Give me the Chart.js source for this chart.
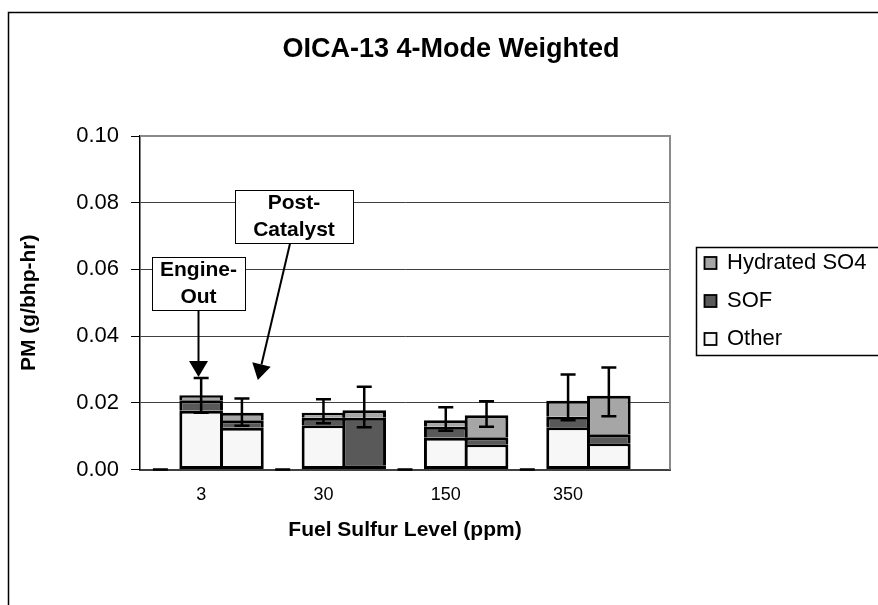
<!DOCTYPE html>
<html>
<head>
<meta charset="utf-8">
<title>OICA-13 4-Mode Weighted</title>
<script src="https://cdn.jsdelivr.net/npm/chart.js@4.4.1/dist/chart.umd.min.js"></script>
<style>
  html, body { margin: 0; padding: 0; background: #fff; }
  canvas { display: block; }
</style>
</head>
<body>
<canvas id="pm-chart" width="878" height="605"></canvas>
<script>
const chartTitle = "OICA-13 4-Mode Weighted";
const categories = ["3", "30", "150", "350"];
const yTicks = [0, 0.02, 0.04, 0.06, 0.08, 0.10];

// Engine-Out (left bar of each pair), g/bhp-hr
const engineOther = [0.0176, 0.0133, 0.0095, 0.0127];
const engineSOF   = [0.0032, 0.0022, 0.0033, 0.0031];
const engineSO4   = [0.0015, 0.0015, 0.0020, 0.0048];
const engineErrHigh = [0.0274, 0.0211, 0.0187, 0.0285];
const engineErrLow  = [0.0170, 0.0139, 0.0116, 0.0148];

// Post-Catalyst (right bar of each pair)
const postOther = [0.0125, 0.0013, 0.0076, 0.0079];
const postSOF   = [0.0023, 0.0142, 0.0021, 0.0027];
const postSO4   = [0.0022, 0.0023, 0.0066, 0.0115];
const postErrHigh = [0.0213, 0.0248, 0.0205, 0.0306];
const postErrLow  = [0.0131, 0.0127, 0.0128, 0.0160];

// empty series in front of each pair (only its error caps show, at zero)
const blankValues = [0, 0, 0, 0];

const FONT = "'Liberation Sans', Arial, Helvetica, sans-serif";

// each category = [blank, engine-out, post-catalyst] slots, plus one spare slot at the end
const slotCount = categories.length * 3 + 1;
const slotLabels = Array.from({ length: slotCount }, (_, i) =>
  i % 3 === 1 && i < categories.length * 3 ? categories[(i - 1) / 3] : "");

function toSlots(eo, pc) {
  const out = new Array(slotCount).fill(null);
  categories.forEach((_, i) => {
    out[i * 3 + 1] = eo[i];
    out[i * 3 + 2] = pc[i];
  });
  return out;
}

const errorBars = [];
categories.forEach((_, i) => {
  errorBars.push({ slot: i * 3, high: blankValues[i], low: blankValues[i] });
  errorBars.push({ slot: i * 3 + 1, high: engineErrHigh[i], low: engineErrLow[i] });
  errorBars.push({ slot: i * 3 + 2, high: postErrHigh[i], low: postErrLow[i] });
});

// callout boxes, placed in slot / value units
const callouts = [
  { lines: ["Engine-", "Out"], slot: 0.935, value: 0.0558, w: 93, h: 53,
    fromSlot: 0.935, tipSlot: 0.935, tipValue: 0.0277 },
  { lines: ["Post-", "Catalyst"], slot: 3.277, value: 0.0759, w: 118, h: 53,
    fromSlot: 3.18, tipSlot: 2.39, tipValue: 0.0268 },
];

const chartDecor = {
  id: "chartDecor",
  beforeDraw(chart) {
    const ctx = chart.ctx;
    ctx.save();
    ctx.fillStyle = "#fff";
    ctx.fillRect(0, 0, chart.width, chart.height);
    ctx.strokeStyle = "#000";
    ctx.lineWidth = 1.5;
    ctx.beginPath();
    ctx.moveTo(8.5, chart.height);
    ctx.lineTo(8.5, 12.5);
    ctx.lineTo(chart.width, 12.5);
    ctx.stroke();
    ctx.fillStyle = "#000";
    ctx.font = "bold 27px " + FONT;
    ctx.textAlign = "center";
    ctx.textBaseline = "middle";
    ctx.fillText(chartTitle, 451, 50);
    ctx.restore();
  },
  beforeDatasetsDraw(chart) {
    const { left, right, top, bottom } = chart.chartArea;
    const ctx = chart.ctx;
    ctx.save();
    ctx.strokeStyle = "#8a8a8a";
    ctx.lineWidth = 2;
    ctx.beginPath();
    ctx.moveTo(left, top);
    ctx.lineTo(right, top);
    ctx.lineTo(right, bottom);
    ctx.stroke();
    ctx.restore();
  },
  afterDatasetsDraw(chart) {
    const ctx = chart.ctx;
    const xs = chart.scales.x, ys = chart.scales.y;
    ctx.save();
    ctx.strokeStyle = "#000";
    ctx.lineWidth = 2.5;
    errorBars.forEach(e => {
      const x = xs.getPixelForValue(e.slot);
      const yh = ys.getPixelForValue(e.high);
      const yl = ys.getPixelForValue(e.low);
      ctx.beginPath();
      ctx.moveTo(x, yh); ctx.lineTo(x, yl);
      ctx.moveTo(x - 7.5, yh); ctx.lineTo(x + 7.5, yh);
      ctx.moveTo(x - 7.5, yl); ctx.lineTo(x + 7.5, yl);
      ctx.stroke();
    });
    ctx.restore();
  },
  afterDraw(chart) {
    const ctx = chart.ctx;
    const xs = chart.scales.x, ys = chart.scales.y;
    ctx.save();

    // callouts with arrows
    callouts.forEach(c => {
      const cx = xs.getPixelForValue(c.slot);
      const cy = ys.getPixelForValue(c.value);
      const bx = Math.round(cx - c.w / 2) + 0.5, by = Math.round(cy - c.h / 2) + 0.5;
      ctx.fillStyle = "#fff";
      ctx.fillRect(bx, by, c.w, c.h);
      ctx.strokeStyle = "#000";
      ctx.lineWidth = 1;
      ctx.strokeRect(bx, by, c.w, c.h);
      ctx.fillStyle = "#000";
      ctx.font = "bold 21px " + FONT;
      ctx.textAlign = "center";
      ctx.textBaseline = "middle";
      ctx.fillText(c.lines[0], cx, cy - 13);
      ctx.fillText(c.lines[1], cx, cy + 14);

      const x0 = xs.getPixelForValue(c.fromSlot), y0 = by + c.h;
      const x1 = xs.getPixelForValue(c.tipSlot), y1 = ys.getPixelForValue(c.tipValue);
      const ang = Math.atan2(y1 - y0, x1 - x0);
      const headLen = 16, headHalf = 9.5;
      const hx = x1 - headLen * Math.cos(ang), hy = y1 - headLen * Math.sin(ang);
      ctx.lineWidth = 2;
      ctx.beginPath();
      ctx.moveTo(x0, y0);
      ctx.lineTo(hx, hy);
      ctx.stroke();
      ctx.beginPath();
      ctx.moveTo(x1, y1);
      ctx.lineTo(hx + headHalf * Math.sin(ang), hy - headHalf * Math.cos(ang));
      ctx.lineTo(hx - headHalf * Math.sin(ang), hy + headHalf * Math.cos(ang));
      ctx.closePath();
      ctx.fill();
    });

    // legend
    const lx = 696.5, ly = 247.5;
    ctx.strokeStyle = "#000";
    ctx.lineWidth = 1.5;
    ctx.strokeRect(lx, ly, chart.width, 108);
    ctx.font = "22px " + FONT;
    ctx.textAlign = "left";
    ctx.textBaseline = "middle";
    const items = chart.data.datasets.slice().reverse();
    items.forEach((ds, i) => {
      const rowY = 263 + i * 38;
      ctx.fillStyle = ds.backgroundColor;
      ctx.fillRect(704.5, rowY - 6, 12, 12);
      ctx.lineWidth = 1.8;
      ctx.strokeRect(704.5, rowY - 6, 12, 12);
      ctx.fillStyle = "#000";
      ctx.fillText(ds.label, 727, rowY);
    });
    ctx.restore();
  }
};

const barStyle = {
  stack: "pm",
  borderColor: "#000",
  borderWidth: 3,
  barPercentage: 1.07,
  categoryPercentage: 1.0,
};

new Chart(document.getElementById("pm-chart"), {
  type: "bar",
  data: {
    labels: slotLabels,
    datasets: [
      { ...barStyle, label: "Other", data: toSlots(engineOther, postOther),
        backgroundColor: "#f7f7f7", borderSkipped: false },
      { ...barStyle, label: "SOF", data: toSlots(engineSOF, postSOF),
        backgroundColor: "#595959", borderSkipped: "bottom" },
      { ...barStyle, label: "Hydrated SO4", data: toSlots(engineSO4, postSO4),
        backgroundColor: "#a6a6a6", borderSkipped: "bottom" },
    ]
  },
  options: {
    responsive: false,
    animation: false,
    layout: { padding: { left: 0, top: 136, right: 208, bottom: 0 } },
    plugins: {
      legend: { display: false },
      title: { display: false },
      tooltip: { enabled: false },
    },
    scales: {
      x: {
        stacked: true,
        grid: { display: false, drawTicks: false },
        border: { display: true, color: "#404040", width: 2 },
        ticks: { autoSkip: false, maxRotation: 0, padding: 15, color: "#000",
                 font: { family: FONT, size: 18 } },
        title: { display: true, text: "Fuel Sulfur Level (ppm)", color: "#000",
                 font: { family: FONT, size: 21, weight: "bold" },
                 padding: { top: 0, bottom: 62 } },
        afterFit: s => { s.height = 135.5; },
      },
      y: {
        stacked: true,
        min: 0,
        max: 0.1,
        afterBuildTicks: s => { s.ticks = yTicks.map(v => ({ value: v })); },
        grid: { color: "#404040", lineWidth: 1, drawTicks: true, tickLength: 9, tickColor: "#000" },
        border: { display: true, color: "#000", width: 1.5 },
        ticks: { padding: 12, color: "#000", font: { family: FONT, size: 22 },
                 callback: v => v.toFixed(2) },
        title: { display: true, text: "PM (g/bhp-hr)", color: "#000",
                 font: { family: FONT, size: 21, weight: "bold" },
                 padding: { top: 17, bottom: 0 } },
        afterFit: s => { s.width = 140; },
      }
    }
  },
  plugins: [chartDecor]
});
</script>
</body>
</html>
